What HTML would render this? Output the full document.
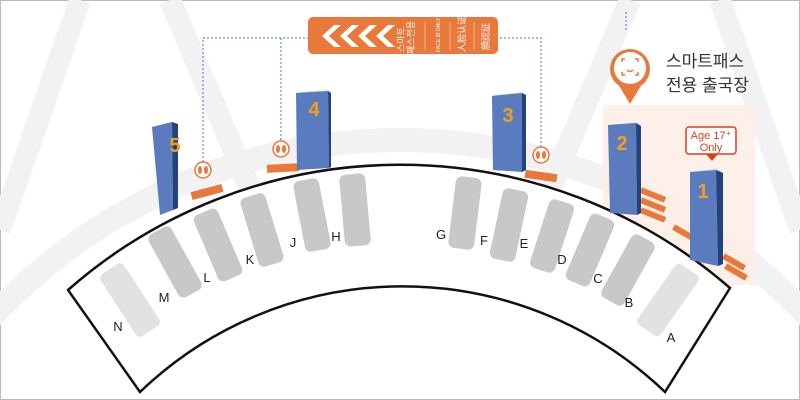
<!DOCTYPE html>
<html><head><meta charset="utf-8"><style>
html,body{margin:0;padding:0;background:#fff;width:800px;height:400px;overflow:hidden}
svg{display:block}
text{font-family:"Liberation Sans","Noto Sans CJK KR",sans-serif}
</style></head><body>
<svg width="800" height="400" viewBox="0 0 800 400" xmlns="http://www.w3.org/2000/svg">
<rect x="0.5" y="0.5" width="799" height="399" fill="#fff" stroke="#bbb"/>
<g stroke="#f2f2f2" fill="none">
<circle cx="400" cy="700" r="560" stroke-width="24"/>
<line x1="170" y1="0" x2="280" y2="260" stroke-width="22"/>
<line x1="630" y1="0" x2="520" y2="260" stroke-width="22"/>
<line x1="80" y1="0" x2="0" y2="230" stroke-width="22"/>
<line x1="720" y1="0" x2="800" y2="230" stroke-width="22"/>
</g>
<rect x="603" y="105" width="152" height="180" fill="#fdece2" opacity="0.8"/>
<path d="M68,290 A503,503 0 0 1 730,288 L665,392 A379,379 0 0 0 140,392 Z" fill="#fff" stroke="#111" stroke-width="2.5"/>
<g fill="#c8c8c8">
<rect x="-14" y="-37" width="28" height="74" rx="5" transform="translate(130,300) rotate(-33)" fill="#e2e2e2"/>
<rect x="-13" y="-36" width="26" height="72" rx="6" transform="translate(175,262) rotate(-29)"/>
<rect x="-13" y="-36" width="26" height="72" rx="6" transform="translate(218,245) rotate(-23)"/>
<rect x="-13" y="-36" width="26" height="72" rx="6" transform="translate(262,230) rotate(-17)"/>
<rect x="-13" y="-36" width="26" height="72" rx="6" transform="translate(312,215) rotate(-11)"/>
<rect x="-13" y="-36" width="26" height="72" rx="6" transform="translate(355,210) rotate(-5)"/>
<rect x="-13" y="-36" width="26" height="72" rx="6" transform="translate(465,213) rotate(7)"/>
<rect x="-13" y="-36" width="26" height="72" rx="6" transform="translate(509,225) rotate(12)"/>
<rect x="-13" y="-36" width="26" height="72" rx="6" transform="translate(552,236) rotate(18)"/>
<rect x="-13" y="-36" width="26" height="72" rx="6" transform="translate(590,250) rotate(23)"/>
<rect x="-13" y="-36" width="26" height="72" rx="6" transform="translate(628,270) rotate(29)"/>
<rect x="-14" y="-37" width="28" height="74" rx="5" transform="translate(668,300) rotate(35)" fill="#e2e2e2"/>
</g>
<g font-size="13" fill="#222" text-anchor="middle">
<text x="118" y="331">N</text><text x="164" y="302">M</text><text x="207" y="282">L</text>
<text x="250" y="264">K</text><text x="293" y="247">J</text><text x="336" y="241">H</text>
<text x="441" y="239">G</text><text x="484" y="245">F</text><text x="524" y="248">E</text>
<text x="562" y="264">D</text><text x="598" y="283">C</text><text x="629" y="307">B</text>
<text x="671" y="342">A</text>
</g>
<g stroke="#4a6fc0" stroke-dasharray="2,2" fill="none" stroke-width="1">
<path d="M203,162 V38 H310"/>
<path d="M281,140 V38"/>
<path d="M500,38 H541 V146"/>
<path d="M626,12 V30"/>
</g>
<rect x="308" y="17" width="190" height="37" rx="5" fill="#e8793a"/>
<g fill="#fff">
<path d="M322,36 l12,-11 h7 l-12,11 l12,11 h-7 z"/>
<path d="M340,36 l12,-11 h7 l-12,11 l12,11 h-7 z"/>
<path d="M358,36 l12,-11 h7 l-12,11 l12,11 h-7 z"/>
<path d="M376,36 l12,-11 h7 l-12,11 l12,11 h-7 z"/>
</g>
<g stroke="#f5b58e" stroke-width="1"><line x1="425" y1="22" x2="425" y2="50"/><line x1="450" y1="22" x2="450" y2="50"/><line x1="474" y1="22" x2="474" y2="50"/></g>
<g fill="#fff" font-size="9">
<text transform="translate(404,52) rotate(-90)">스마트</text>
<text transform="translate(414,54) rotate(-90)">패스전용</text>
<text transform="translate(440,52) rotate(-90)" font-size="5">FACE ID ONLY</text>
<text transform="translate(465,52) rotate(-90)">人脸认证</text>
<text transform="translate(489,50) rotate(-90)">顔認証</text>
</g>
<circle cx="630" cy="69" r="20" fill="#e8793a"/>
<path d="M618,84 L630,104 L642,84 Z" fill="#e8793a"/>
<circle cx="630" cy="68" r="16" fill="#fff"/>
<g stroke="#e8793a" stroke-width="1.5" fill="none">
<path d="M622,62 v-3 h3 M635,59 h3 v3 M638,72 v3 h-3 M625,75 h-3 v-3"/>
<path d="M627,70 q3,3 6,0"/>
</g>
<text x="666" y="67" font-size="17" fill="#333">스마트패스</text>
<text x="666" y="91" font-size="17" fill="#333">전용 출국장</text>
<rect x="686" y="127" width="50" height="27" rx="3" fill="#fff" stroke="#d9411e" stroke-width="1.5"/>
<path d="M706,154 L712,161 L718,154 Z" fill="#d9411e"/>
<text x="711" y="139" font-size="11" fill="#d9411e" text-anchor="middle">Age 17⁺</text>
<text x="711" y="151" font-size="11" fill="#d9411e" text-anchor="middle">Only</text>
<g fill="#e8793a">
<rect x="-16" y="-4" width="32" height="8" transform="translate(207,192) rotate(-15)"/>
<rect x="-16" y="-4" width="32" height="8" transform="translate(283,168) rotate(-3)"/>
<rect x="-16" y="-4" width="32" height="8" transform="translate(541,176) rotate(8)"/>
<rect x="-13" y="-3" width="26" height="6" transform="translate(653,195) rotate(22)"/>
<rect x="-13" y="-3" width="26" height="6" transform="translate(653,205) rotate(22)"/>
<rect x="-13" y="-3" width="26" height="6" transform="translate(653,215) rotate(22)"/>
<rect x="-12" y="-3" width="24" height="6" transform="translate(734,262) rotate(30)"/>
<rect x="-12" y="-3" width="24" height="6" transform="translate(736,272) rotate(30)"/>
<rect x="-12" y="-3" width="24" height="6" transform="translate(684,233) rotate(30)"/>
</g>
<g fill="#fff" stroke="#e8793a" stroke-width="1.5">
<circle cx="203" cy="170" r="8"/><circle cx="281" cy="149" r="8"/><circle cx="541" cy="155" r="8"/>
</g>
<g fill="#e8793a">
<ellipse cx="200" cy="170" rx="2" ry="4"/><ellipse cx="206" cy="170" rx="2" ry="4"/>
<ellipse cx="278" cy="149" rx="2" ry="4"/><ellipse cx="284" cy="149" rx="2" ry="4"/>
<ellipse cx="538" cy="155" rx="2" ry="4"/><ellipse cx="544" cy="155" rx="2" ry="4"/>
</g>
<g>
<polygon points="152,127 172,122 178,124 158,129" fill="#dde4f2"/>
<polygon points="152,127 172,122 173,210 160,215" fill="#5a7bbd"/>
<polygon points="172,122 178,124 178,208 173,210" fill="#26427c"/>
<text x="175" y="152" font-size="20" font-weight="bold" fill="#f0a020" text-anchor="middle">5</text>
<polygon points="296,92 328,90 331,92 299,94" fill="#dde4f2"/>
<polygon points="296,93 328,91 329,168 297,170" fill="#5a7bbd"/>
<polygon points="328,91 331,93 331,167 329,168" fill="#26427c"/>
<text x="314" y="116" font-size="20" font-weight="bold" fill="#f0a020" text-anchor="middle">4</text>
<polygon points="492,95 522,92 525,94 495,97" fill="#dde4f2"/>
<polygon points="492,96 522,93 522,172 493,170" fill="#5a7bbd"/>
<polygon points="522,93 526,95 526,170 522,172" fill="#26427c"/>
<text x="508" y="122" font-size="20" font-weight="bold" fill="#f0a020" text-anchor="middle">3</text>
<polygon points="608,125 636,122 641,125 613,128" fill="#dde4f2"/>
<polygon points="608,125 636,123 637,215 610,213" fill="#5a7bbd"/>
<polygon points="636,123 641,126 641,213 637,215" fill="#26427c"/>
<text x="622" y="150" font-size="20" font-weight="bold" fill="#f0a020" text-anchor="middle">2</text>
<polygon points="690,172 716,168 723,172 697,176" fill="#dde4f2"/>
<polygon points="690,172 716,170 718,266 690,260" fill="#5a7bbd"/>
<polygon points="716,170 723,173 723,264 718,266" fill="#26427c"/>
<text x="703" y="198" font-size="20" font-weight="bold" fill="#f0a020" text-anchor="middle">1</text>
</g>
</svg>
</body></html>
